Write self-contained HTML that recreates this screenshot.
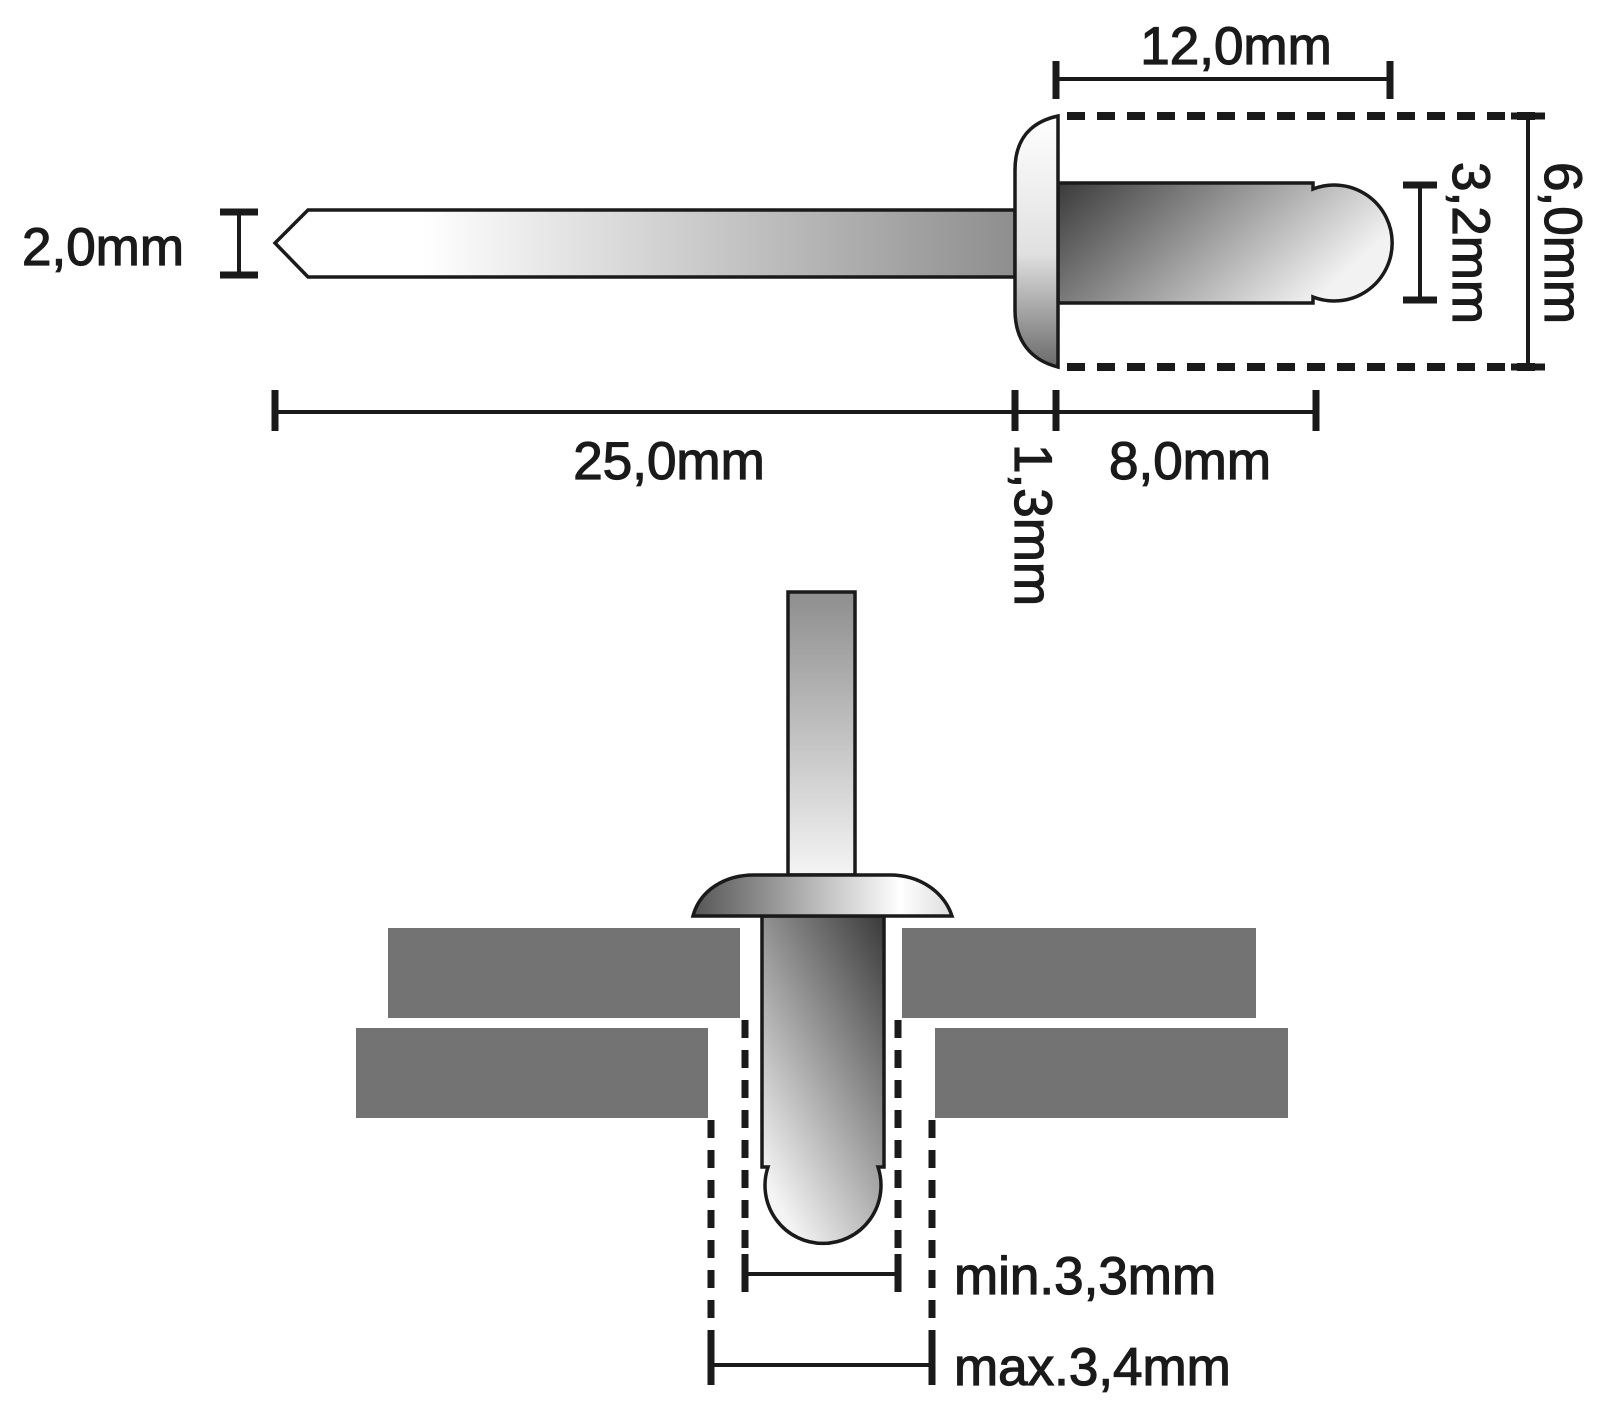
<!DOCTYPE html>
<html><head><meta charset="utf-8"><style>
html,body{margin:0;padding:0;background:#fff}
svg{display:block}
text{font-family:"Liberation Sans",Arial,sans-serif;font-size:53px;fill:#1a1a1a;stroke:#1a1a1a;stroke-width:1.2}
</style></head><body>
<svg width="1600" height="1401" viewBox="0 0 1600 1401" xmlns="http://www.w3.org/2000/svg">
<defs>
<linearGradient id="pin" x1="0" y1="0" x2="1" y2="0">
<stop offset="0" stop-color="#fff"/><stop offset="0.2" stop-color="#fff"/><stop offset="1" stop-color="#8e8e8e"/></linearGradient>
<linearGradient id="shank" x1="0" y1="0" x2="1" y2="0.4">
<stop offset="0" stop-color="#3a3a3a"/><stop offset="1" stop-color="#f2f2f2"/></linearGradient>
<linearGradient id="head" x1="0" y1="0" x2="0" y2="1">
<stop offset="0" stop-color="#fff"/><stop offset="0.55" stop-color="#e0e0e0"/><stop offset="1" stop-color="#6a6a6a"/></linearGradient>
<linearGradient id="stem2" x1="0" y1="0" x2="0" y2="1">
<stop offset="0" stop-color="#8e8e8e"/><stop offset="1" stop-color="#f4f4f4"/></linearGradient>
<linearGradient id="head2" x1="0" y1="0" x2="1" y2="0">
<stop offset="0" stop-color="#555"/><stop offset="0.8" stop-color="#fff"/><stop offset="1" stop-color="#ddd"/></linearGradient>
<linearGradient id="shank2" x1="1" y1="0" x2="0.3" y2="1">
<stop offset="0" stop-color="#3a3a3a"/><stop offset="1" stop-color="#f4f4f4"/></linearGradient>
</defs>
<g stroke="#1a1a1a" stroke-width="3.5" fill="none">
<path d="M308 210 L1015 210 L1015 277 L308 277 L275 243 Z" fill="url(#pin)"/>
<path d="M1058 183 L1313 183 L1313 189 A58 58 0 1 1 1313 297 L1313 303 L1058 303 Z" fill="url(#shank)"/>
<path d="M1058 116 L1058 367 C1030 360 1015 340 1015 310 L1015 170 C1015 140 1030 122 1058 116 Z" fill="url(#head)"/>
</g>
<g stroke="#1a1a1a" fill="none">
<path d="M1067 116 H1543 M1067 367 H1543" stroke-width="8" stroke-dasharray="18 12"/>
<g stroke-width="4">
<path d="M1056 79 H1390 M1528 120 V364 M1420 185 V300 M239 212 V275 M275 412 H1316"/>
</g>
<g stroke-width="7">
<path d="M1056 61 V99 M1390 61 V99 M1511 116 H1545 M1511 367 H1545 M1403 185 H1437 M1403 300 H1437 M220 212 H258 M220 275 H258 M275 390 V431 M1015 390 V431 M1056 390 V431 M1316 390 V431"/>
</g>
<g stroke="none" fill="#737373">
<rect x="388" y="928" width="352" height="90"/>
<rect x="902" y="928" width="354" height="90"/>
<rect x="356" y="1028" width="352" height="90"/>
<rect x="935" y="1028" width="353" height="90"/>
</g>
<g stroke-width="3.5">
<rect x="788" y="592" width="67" height="283" fill="url(#stem2)"/>
<path d="M762 916 L884 916 L884 1167 L878 1167 A58 58 0 1 1 768 1167 L762 1167 Z" fill="url(#shank2)"/>
<path d="M693 916 C700 890 725 875 754 875 L890 875 C920 875 944 892 952 916 Z" fill="url(#head2)"/>
</g>
<path d="M745 1020 V1292 M898 1020 V1292" stroke-width="7" stroke-dasharray="18 12"/>
<path d="M711 1120 V1385 M932 1120 V1385" stroke-width="7" stroke-dasharray="18 12"/>
<path d="M745 1274 H898 M711 1365 H932" stroke-width="4"/>
<path d="M745 1254 V1292 M898 1254 V1292 M711 1345 V1385 M932 1345 V1385" stroke-width="7"/>
</g>
<text x="1236" y="64" text-anchor="middle">12,0mm</text>
<text x="103" y="265" text-anchor="middle">2,0mm</text>
<text x="669" y="479" text-anchor="middle">25,0mm</text>
<text x="1190" y="479" text-anchor="middle">8,0mm</text>
<text transform="translate(1015,525) rotate(90)" text-anchor="middle">1,3mm</text>
<text transform="translate(1453,243) rotate(90)" text-anchor="middle">3,2mm</text>
<text transform="translate(1545,243) rotate(90)" text-anchor="middle">6,0mm</text>
<text x="954" y="1294">min.3,3mm</text>
<text x="954" y="1385">max.3,4mm</text>
</svg>
</body></html>
